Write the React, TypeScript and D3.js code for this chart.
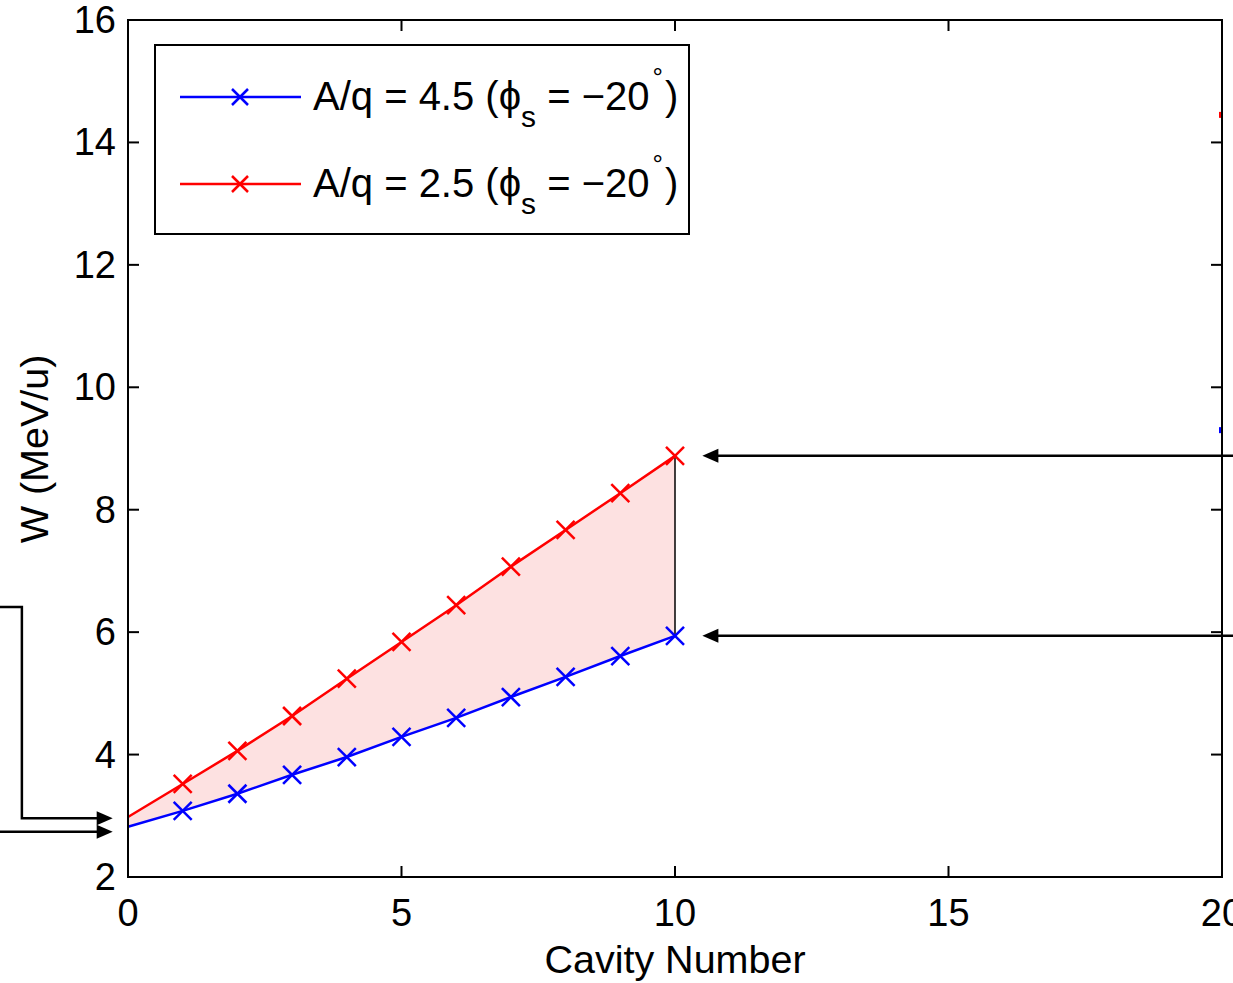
import React from "react";
import * as d3 from "d3";

// Cavity index along the linac
const cavities = [0, 1, 2, 3, 4, 5, 6, 7, 8, 9, 10];
// Output energy W (MeV/u) for each ion species
const energyAq45 = [2.82, 3.08, 3.36, 3.67, 3.96, 4.29, 4.6, 4.94, 5.27, 5.61, 5.94];
const energyAq25 = [2.98, 3.52, 4.06, 4.63, 5.24, 5.84, 6.44, 7.07, 7.67, 8.27, 8.88];
// leftover bits of the curves at the far edge of the plot
const tailX = 20;
const tailAq45 = 9.3;
const tailAq25 = 14.45;

const xTicks = [0, 5, 10, 15, 20];
const yTicks = [2, 4, 6, 8, 10, 12, 14, 16];

const legendLabels = ["A/q = 4.5", "A/q = 2.5"];
const legendColors = ["#0000ff", "#ff0000"];

// annotation arrows in data units: [fromX, y, toX]
const rightArrows = [
  [20.5, 8.88, 10.5],
  [20.5, 5.94, 10.5],
];
const leftArrows = [
  // polyline points, last point is the tip
  [[-2.4, 6.41], [-1.94, 6.41], [-1.94, 2.96], [-0.28, 2.96]],
  [[-2.4, 2.74], [-0.28, 2.74]],
];

const W = 1233;
const H = 983;
const FONT = "'Liberation Sans', Arial, Helvetica, sans-serif";

const x = d3.scaleLinear().domain([0, 20]).range([128, 1222]);
const y = d3.scaleLinear().domain([2, 16]).range([877, 20]);

const Cross = ({ cx, cy, color, r = 9 }) => (
  <g stroke={color} strokeWidth={2.5}>
    <line x1={cx - r} y1={cy - r} x2={cx + r} y2={cy + r} />
    <line x1={cx - r} y1={cy + r} x2={cx + r} y2={cy - r} />
  </g>
);

// arrowhead pointing in the direction of travel
const Head = ({ tx, ty, dir }) => {
  const len = 16;
  const hw = 7;
  const bx = tx - dir * len;
  return <polygon points={`${tx},${ty} ${bx},${ty - hw} ${bx},${ty + hw}`} fill="#000" />;
};

export default function App() {
  const blue = cavities.map((c, i) => [c, energyAq45[i]] as [number, number]);
  const red = cavities.map((c, i) => [c, energyAq25[i]] as [number, number]);

  const line = d3
    .line<[number, number]>()
    .x((d) => x(d[0]))
    .y((d) => y(d[1]));

  const band = d3
    .area<number>()
    .x((c) => x(c))
    .y0((c, i) => y(energyAq45[i]))
    .y1((c, i) => y(energyAq25[i]));

  const last = cavities.length - 1;

  return (
    <svg
      width={W}
      height={H}
      style={{ position: "absolute", left: 0, top: 0, background: "#fff", overflow: "hidden" }}
      fontFamily={FONT}
    >
      {/* shaded region between the two species */}
      <path d={band(cavities) || ""} fill="#fde1e1" stroke="none" />
      <line
        x1={x(cavities[last])}
        x2={x(cavities[last])}
        y1={y(energyAq45[last])}
        y2={y(energyAq25[last])}
        stroke="#000"
        strokeWidth={1.5}
      />

      <path d={line(blue) || ""} fill="none" stroke={legendColors[0]} strokeWidth={2.5} />
      <path d={line(red) || ""} fill="none" stroke={legendColors[1]} strokeWidth={2.5} />
      {blue.slice(1).map((d, i) => (
        <Cross key={"b" + i} cx={x(d[0])} cy={y(d[1])} color={legendColors[0]} />
      ))}
      {red.slice(1).map((d, i) => (
        <Cross key={"r" + i} cx={x(d[0])} cy={y(d[1])} color={legendColors[1]} />
      ))}
      <rect x={x(tailX) - 3} y={y(tailAq25) - 3} width={4} height={6} fill={legendColors[1]} />
      <rect x={x(tailX) - 3} y={y(tailAq45) - 3} width={4} height={6} fill={legendColors[0]} />

      {/* axes box */}
      <rect x={x(0)} y={y(16)} width={x(20) - x(0)} height={y(2) - y(16)} fill="none" stroke="#000" strokeWidth={2} />
      {xTicks.map((t) => (
        <g key={"xt" + t}>
          <line x1={x(t)} x2={x(t)} y1={y(2)} y2={y(2) - 11} stroke="#000" strokeWidth={2} />
          <line x1={x(t)} x2={x(t)} y1={y(16)} y2={y(16) + 11} stroke="#000" strokeWidth={2} />
          <text x={x(t)} y={y(2) + 49} textAnchor="middle" fontSize={38} fill="#000">
            {t}
          </text>
        </g>
      ))}
      {yTicks.map((t) => (
        <g key={"yt" + t}>
          <line x1={x(0)} x2={x(0) + 11} y1={y(t)} y2={y(t)} stroke="#000" strokeWidth={2} />
          <line x1={x(20)} x2={x(20) - 11} y1={y(t)} y2={y(t)} stroke="#000" strokeWidth={2} />
          <text x={x(0) - 12} y={y(t) + 13} textAnchor="end" fontSize={38} fill="#000">
            {t}
          </text>
        </g>
      ))}

      <text x={675} y={973} textAnchor="middle" fontSize={39.5} fill="#000">
        Cavity Number
      </text>
      <text
        transform={`translate(48,449) rotate(-90)`}
        textAnchor="middle"
        fontSize={39.5}
        fill="#000"
      >
        W (MeV/u)
      </text>

      {/* legend */}
      <rect x={155} y={45} width={534} height={189} fill="#fff" stroke="#000" strokeWidth={2} />
      {legendLabels.map((lab, i) => {
        const ly = 97 + i * 87;
        return (
          <g key={lab}>
            <line x1={180} x2={301} y1={ly} y2={ly} stroke={legendColors[i]} strokeWidth={2.5} />
            <Cross cx={240} cy={ly} color={legendColors[i]} r={8} />
            <text x={313} y={ly + 13} fontSize={40} fill="#000">
              {lab + " ("}
              <tspan>ϕ</tspan>
              <tspan dy={17} fontSize={30}>s</tspan>
              <tspan dy={-17}>{" = −20"}</tspan>
              <tspan dy={-24} dx={3} fontSize={26}>°</tspan>
              <tspan dy={24} dx={2}>)</tspan>
            </text>
          </g>
        );
      })}

      {/* annotation arrows */}
      {rightArrows.map(([fx, vy, tx], i) => (
        <g key={"ra" + i}>
          <line x1={x(fx)} x2={x(tx) + 10} y1={y(vy)} y2={y(vy)} stroke="#000" strokeWidth={2.5} />
          <Head tx={x(tx)} ty={y(vy)} dir={-1} />
        </g>
      ))}
      {leftArrows.map((pts, i) => {
        const tip = pts[pts.length - 1];
        const path = d3
          .line<number[]>()
          .x((p, j) => (j === pts.length - 1 ? x(p[0]) - 10 : x(p[0])))
          .y((p) => y(p[1]));
        return (
          <g key={"la" + i}>
            <path d={path(pts) || ""} fill="none" stroke="#000" strokeWidth={2.5} />
            <Head tx={x(tip[0])} ty={y(tip[1])} dir={1} />
          </g>
        );
      })}
    </svg>
  );
}
